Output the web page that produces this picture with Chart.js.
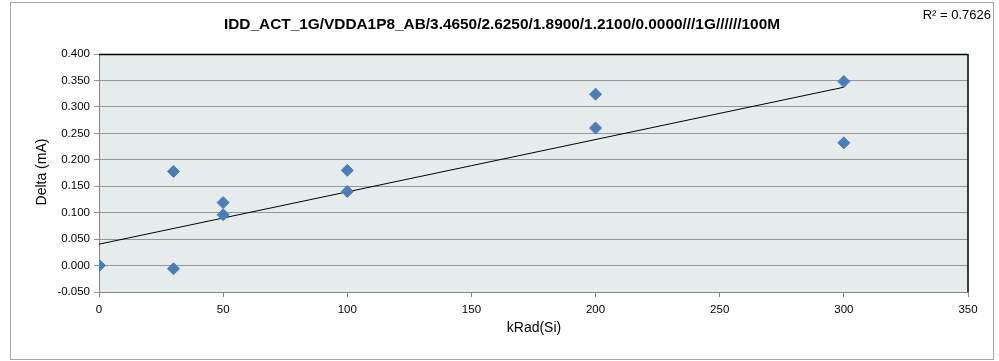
<!DOCTYPE html>
<html>
<head>
<meta charset="utf-8">
<script src="https://cdn.jsdelivr.net/npm/chart.js@4.4.1/dist/chart.umd.min.js"></script>
<style>
  html, body { margin: 0; padding: 0; background: #fff; }
  #wrap { width: 999px; height: 361px; position: relative; }
</style>
</head>
<body>
<div id="wrap"><canvas id="chart" width="999" height="361"></canvas></div>
<script>
// measured points (three samples sit on top of each other at 0 kRad)
const kradX = [0, 0, 0, 30, 30, 50, 50, 100, 100, 200, 200, 300, 300];
const deltaY = [0.000, 0.000, 0.000, 0.178, -0.006, 0.119, 0.096, 0.180, 0.140, 0.324, 0.260, 0.348, 0.232];

const chartTitle = "IDD_ACT_1G/VDDA1P8_AB/3.4650/2.6250/1.8900/1.2100/0.0000///1G//////100M";
const rSquaredLabel = "R\u00B2 = 0.7626";
const xTitle = "kRad(Si)";
const yTitle = "Delta (mA)";

// least squares fit for the trendline
function linearFit(xs, ys) {
  const n = xs.length;
  let sx = 0, sy = 0, sxy = 0, sxx = 0;
  for (let i = 0; i < n; i++) {
    sx += xs[i]; sy += ys[i];
    sxy += xs[i] * ys[i]; sxx += xs[i] * xs[i];
  }
  const slope = (n * sxy - sx * sy) / (n * sxx - sx * sx);
  const intercept = (sy - slope * sx) / n;
  return { slope, intercept };
}

const fit = linearFit(kradX, deltaY);
const xMin = Math.min(...kradX);
const xMax = Math.max(...kradX);
const trend = [
  { x: xMin, y: fit.intercept + fit.slope * xMin },
  { x: xMax, y: fit.intercept + fit.slope * xMax },
];

const points = kradX.map((x, i) => ({ x: x, y: deltaY[i] }));

const decor = {
  id: "decor",
  beforeDraw(chart) {
    const { ctx, chartArea: a } = chart;
    ctx.save();
    ctx.fillStyle = "#fff";
    ctx.fillRect(0, 0, chart.width, chart.height);
    // outer frame
    ctx.strokeStyle = "#a6a6a6";
    ctx.lineWidth = 1;
    ctx.strokeRect(10.5, 2.5, 983, 357);
    // plot background
    ctx.fillStyle = "#e6ecec";
    ctx.fillRect(a.left, a.top, a.right - a.left, a.bottom - a.top);
    ctx.restore();
  },
  afterDatasetsDraw(chart) {
    const { ctx, chartArea: a } = chart;
    ctx.save();
    ctx.strokeStyle = "#000";
    ctx.lineWidth = 1.5;
    ctx.beginPath();
    ctx.moveTo(a.left, a.top + 0.5);
    ctx.lineTo(a.right, a.top + 0.5);
    ctx.lineTo(a.right, a.bottom);
    ctx.stroke();
    ctx.restore();
  },
  afterDraw(chart) {
    const { ctx } = chart;
    ctx.save();
    ctx.fillStyle = "#000";
    ctx.textBaseline = "middle";
    ctx.textAlign = "center";
    ctx.font = "bold 15.4px 'Liberation Sans', Arial, sans-serif";
    ctx.fillText(chartTitle, 502, 25);

    ctx.textAlign = "right";
    ctx.font = "13px 'Liberation Sans', Arial, sans-serif";
    ctx.fillText(rSquaredLabel, 991, 15);

    ctx.textAlign = "center";
    ctx.font = "14px 'Liberation Sans', Arial, sans-serif";
    ctx.fillText(xTitle, 534, 328);

    ctx.translate(42, 172);
    ctx.rotate(-Math.PI / 2);
    ctx.fillText(yTitle, 0, 0);
    ctx.restore();
  },
};

new Chart(document.getElementById("chart"), {
  type: "scatter",
  data: {
    datasets: [
      {
        label: "Delta",
        data: points,
        pointStyle: "rectRot",
        pointRadius: 6,
        pointHoverRadius: 6,
        backgroundColor: "#4a7ebb",
        borderColor: "#4a7ebb",
        borderWidth: 1,
        order: 1,
      },
      {
        label: "Linear",
        type: "line",
        data: trend,
        borderColor: "#000",
        borderWidth: 1,
        pointRadius: 0,
        fill: false,
        order: 2,
      },
    ],
  },
  options: {
    responsive: false,
    animation: false,
    events: [],
    layout: { padding: { top: 54, right: 31, bottom: 0, left: 0 } },
    plugins: {
      legend: { display: false },
      tooltip: { enabled: false },
      title: { display: false },
    },
    scales: {
      x: {
        type: "linear",
        min: 0,
        max: 350,
        afterFit: (s) => { s.height = 69; },
        ticks: {
          stepSize: 50,
          color: "#000",
          font: { family: "'Liberation Sans', Arial, sans-serif", size: 11.5 },
          padding: 6,
        },
        grid: {
          drawOnChartArea: false,
          drawTicks: true,
          tickLength: 5,
          color: "#868686",
        },
        border: { color: "#868686", width: 1 },
      },
      y: {
        min: -0.05,
        max: 0.4,
        afterFit: (s) => { s.width = 99; },
        ticks: {
          stepSize: 0.05,
          color: "#000",
          font: { family: "'Liberation Sans', Arial, sans-serif", size: 11.5 },
          padding: 4,
          callback: (v) => v.toFixed(3),
        },
        grid: {
          color: "#969696",
          lineWidth: 1,
          tickLength: 5,
        },
        border: { color: "#868686", width: 1 },
      },
    },
  },
  plugins: [decor],
});
</script>
</body>
</html>
